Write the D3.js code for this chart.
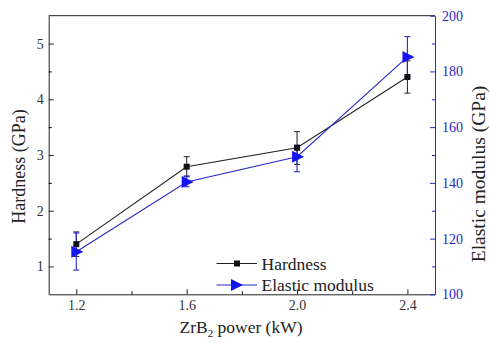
<!DOCTYPE html>
<html><head><meta charset="utf-8">
<script src="https://cdn.jsdelivr.net/npm/d3@7"></script>
<style>body{margin:0;background:#fff}svg{display:block}</style>
</head><body>
<script>
const power = [1.2, 1.6, 2.0, 2.4];
const hardness = [1.40, 2.79, 3.13, 4.40];
const hardnessErrLow = [1.18, 2.61, 2.83, 4.11];
const hardnessErrHigh = [1.62, 2.97, 3.42, 4.69];
const modulus = [115.3, 140.3, 149.4, 185.2];
const modulusErrLow = [108.7, 138.6, 144.0, 178.0];
const modulusErrHigh = [122.0, 142.5, 153.5, 192.5];
const xTicks = [1.2, 1.6, 2.0, 2.4];
const hTicks = [1, 2, 3, 4, 5];
const mTicks = [100, 120, 140, 160, 180, 200];

const W = 490, H = 344;
const m = {l: 48.7, r: 435, t: 15.7, b: 294.3};
const blue = "#2828c8", markBlue = "#1414f0";
const svg = d3.select("body").append("svg").attr("width", W).attr("height", H);
const x = d3.scaleLinear().domain([1.1, 2.5]).range([m.l, m.r]);
const yH = d3.scaleLinear().domain([0.5, 5.5]).range([m.b, m.t]);
const yM = d3.scaleLinear().domain([100, 200]).range([m.b, m.t]);
const font = "'Liberation Serif','Times New Roman',serif";

svg.append("line").attr("x1", m.l).attr("x2", m.r).attr("y1", m.t).attr("y2", m.t).attr("stroke", "#222");

const gx = svg.append("g").attr("transform", `translate(0,${m.b})`)
  .call(d3.axisBottom(x).tickValues(xTicks).tickFormat(d3.format(".1f")).tickSizeInner(-5).tickSizeOuter(0).tickPadding(6));
svg.append("g").attr("transform", `translate(0,${m.b})`)
  .call(d3.axisBottom(x).tickValues([1.4, 1.8, 2.2]).tickFormat("").tickSizeInner(-3).tickSizeOuter(0))
  .call(g => g.select(".domain").remove());
const gl = svg.append("g").attr("transform", `translate(${m.l},0)`)
  .call(d3.axisLeft(yH).tickValues(hTicks).tickFormat(d3.format("d")).tickSizeInner(-5).tickSizeOuter(0).tickPadding(5));
svg.append("g").attr("transform", `translate(${m.l},0)`)
  .call(d3.axisLeft(yH).tickValues([1.5, 2.5, 3.5, 4.5]).tickFormat("").tickSizeInner(-3).tickSizeOuter(0))
  .call(g => g.select(".domain").remove());
const gr = svg.append("g").attr("transform", `translate(${m.r},0)`)
  .call(d3.axisRight(yM).tickValues(mTicks).tickFormat(d3.format("d")).tickSizeInner(-5).tickSizeOuter(0).tickPadding(7));
svg.append("g").attr("transform", `translate(${m.r},0)`)
  .call(d3.axisRight(yM).tickValues([110, 130, 150, 170, 190]).tickFormat("").tickSizeInner(-3).tickSizeOuter(0))
  .call(g => g.selectAll(".domain").remove())
  .call(g => g.selectAll("line").attr("stroke", blue));

svg.selectAll(".tick text").attr("font-family", font).attr("font-size", 14);
gx.selectAll("path,line").attr("stroke", "#222");
gl.selectAll("path,line").attr("stroke", "#222");
gx.selectAll("text").attr("fill", "#333");
gl.selectAll("text").attr("fill", "#333");
gr.selectAll("path,line").attr("stroke", blue);
gr.selectAll("text").attr("fill", blue);

// axis titles
svg.append("text").attr("x", 241).attr("y", 333).attr("text-anchor", "middle")
  .attr("font-family", font).attr("font-size", 17.5).attr("fill", "#222")
  .html('ZrB<tspan dy="4" font-size="11">2</tspan><tspan dy="-4"> power (kW)</tspan>');
svg.append("text").attr("transform", `translate(25,166.5) rotate(-90)`).attr("text-anchor", "middle")
  .attr("font-family", font).attr("font-size", 18).attr("fill", "#222").text("Hardness (GPa)");
svg.append("text").attr("transform", `translate(485,174) rotate(-90)`).attr("text-anchor", "middle")
  .attr("font-family", font).attr("font-size", 19.5).attr("fill", "#222").text("Elastic modulus (GPa)");

const hData = power.map((p, i) => ({p, v: hardness[i], lo: hardnessErrLow[i], hi: hardnessErrHigh[i]}));
const mData = power.map((p, i) => ({p, v: modulus[i], lo: modulusErrLow[i], hi: modulusErrHigh[i]}));

function errBars(data, y, color) {
  const g = svg.append("g").attr("stroke", color).attr("stroke-width", 1.1);
  data.forEach(d => {
    g.append("line").attr("x1", x(d.p)).attr("x2", x(d.p)).attr("y1", y(d.lo)).attr("y2", y(d.hi));
    [d.lo, d.hi].forEach(v => g.append("line").attr("x1", x(d.p) - 3).attr("x2", x(d.p) + 3).attr("y1", y(v)).attr("y2", y(v)));
  });
}
errBars(hData, yH, "#333");
errBars(mData, yM, blue);

svg.append("path").datum(hData).attr("fill", "none").attr("stroke", "#222").attr("stroke-width", 1.1)
  .attr("d", d3.line().x(d => x(d.p)).y(d => yH(d.v)));
svg.append("path").datum(mData).attr("fill", "none").attr("stroke", blue).attr("stroke-width", 1.1)
  .attr("d", d3.line().x(d => x(d.p)).y(d => yM(d.v)));

svg.selectAll(".sq").data(hData).enter().append("rect")
  .attr("x", d => x(d.p) - 3).attr("y", d => yH(d.v) - 3).attr("width", 6).attr("height", 6).attr("fill", "#111");
const tri = "M-5,-6 L7,0 L-5,6 Z";
svg.selectAll(".tri").data(mData).enter().append("path")
  .attr("transform", d => `translate(${x(d.p)},${yM(d.v)})`).attr("d", tri).attr("fill", markBlue);

// legend
const lg = svg.append("g");
lg.append("line").attr("x1", 216.5).attr("x2", 257).attr("y1", 263.5).attr("y2", 263.5).attr("stroke", "#222").attr("stroke-width", 1.1);
lg.append("rect").attr("x", 234).attr("y", 260.5).attr("width", 6).attr("height", 6).attr("fill", "#111");
lg.append("text").attr("x", 261.5).attr("y", 270).attr("font-family", font).attr("font-size", 17.5).attr("fill", "#222").text("Hardness");
lg.append("line").attr("x1", 216.5).attr("x2", 257).attr("y1", 285).attr("y2", 285).attr("stroke", blue).attr("stroke-width", 1.1);
lg.append("path").attr("transform", "translate(236,285)").attr("d", tri).attr("fill", markBlue);
lg.append("text").attr("x", 261.5).attr("y", 291).attr("font-family", font).attr("font-size", 17.5).attr("fill", "#222").text("Elastic modulus");
</script>
</body></html>
